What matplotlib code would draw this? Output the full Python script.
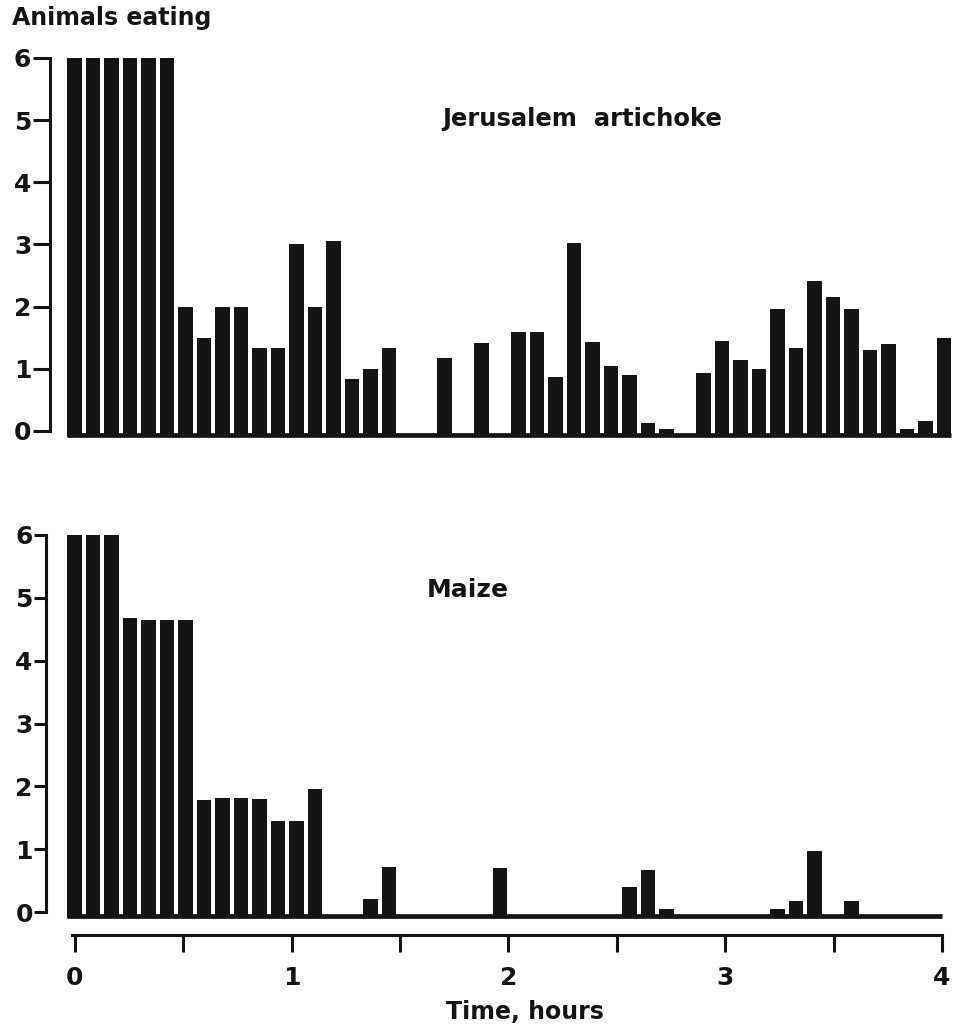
import matplotlib
matplotlib.use("Agg")
import matplotlib.pyplot as plt

# ==========================
# DATOS (48 intervalos de 5 min en 4 horas)
# ==========================

slots = list(range(48))

artichoke = [
    6, 6, 6, 6, 6, 6, 2, 1.5, 2, 2, 1.33, 1.33,
    3, 2, 3.05, 0.83, 1, 1.33, 0, 0, 1.17, 0, 1.42, 0,
    1.6, 1.6, 0.87, 3.03, 1.43, 1.05, 0.9, 0.13, 0.03, 0, 0.93, 1.45,
    1.14, 1.0, 1.96, 1.34, 2.41, 2.15, 1.96, 1.3, 1.4, 0.03, 0.16, 1.5,
]

maize = [
    6, 6, 6, 4.68, 4.64, 4.64, 4.64, 1.78, 1.82, 1.82, 1.8, 1.45,
    1.45, 1.95, 0, 0, 0.2, 0.72, 0, 0, 0, 0, 0, 0.7,
    0, 0, 0, 0, 0, 0, 0.4, 0.67, 0.05, 0, 0, 0,
    0, 0, 0.04, 0.18, 0.97, 0, 0.18, 0, 0, 0, 0, 0,
]

y_ticks = [0, 1, 2, 3, 4, 5, 6]
hour_ticks = [0, 1, 2, 3, 4]
half_ticks = [0.5, 1.5, 2.5, 3.5]

# ==========================
# ESTILO
# ==========================

W, H = 961, 1031
NEGRO = "#141414"
FUENTE = "DejaVu Sans"

plt.rcParams["font.family"] = FUENTE
plt.rcParams["font.weight"] = "bold"

fig = plt.figure(figsize=(W / 100, H / 100), dpi=100)
fig.patch.set_facecolor("white")

PX_SLOT = 18.5
X0 = 74.5  # centro del primer intervalo en pixeles


def panel(valores, y_cero, y_seis, eje_x, tick_len, fin_base):
    unidad = (y_cero - y_seis) / 6.0
    y_bot = y_cero + 0.2 * unidad
    y_top = y_seis - 0.2 * unidad
    ax = fig.add_axes([0, (H - y_bot) / H, 1, (y_bot - y_top) / H])
    ax.set_xlim(-X0 / PX_SLOT, (W - X0) / PX_SLOT)
    ax.set_ylim(-0.2, 6.2)
    ax.patch.set_alpha(0)

    xs = [s for s, v in zip(slots, valores) if v > 0]
    hs = [v + 0.1 for v in valores if v > 0]
    ax.bar(xs, hs, bottom=-0.1, width=0.81, color=NEGRO, linewidth=0)
    ax.plot([-0.41, fin_base], [-0.07, -0.07], color=NEGRO, lw=3.4,
            solid_capstyle="butt")

    for s in ["top", "right", "bottom"]:
        ax.spines[s].set_visible(False)
    ax.spines["left"].set_position(("data", (eje_x - X0) / PX_SLOT))
    ax.spines["left"].set_bounds(0, 6)
    ax.spines["left"].set_linewidth(2.2)
    ax.spines["left"].set_color(NEGRO)
    ax.set_yticks(y_ticks)
    ax.set_yticklabels([str(t) for t in y_ticks])
    ax.tick_params(axis="y", direction="out", length=tick_len, width=2.2,
                   color=NEGRO, labelsize=18, pad=1, labelcolor=NEGRO)
    ax.set_xticks([])
    return ax


ax1 = panel(artichoke, 431, 58, 50, 12.5, 47.4)
ax2 = panel(maize, 912, 535, 46, 8.5, 46.9)

# eje de tiempo
PX_H = 216.75
T0 = 75
y_t = 935
ax3 = fig.add_axes([0, (H - y_t) / H, 1, 0.0001])
ax3.set_xlim(-T0 / PX_H, (W - T0) / PX_H)
ax3.patch.set_alpha(0)
for s in ["top", "right", "left"]:
    ax3.spines[s].set_visible(False)
ax3.spines["bottom"].set_bounds(-0.014, 4.0)
ax3.spines["bottom"].set_linewidth(2.2)
ax3.spines["bottom"].set_color(NEGRO)
ax3.set_yticks([])
ax3.set_xticks(hour_ticks)
ax3.set_xticklabels([str(t) for t in hour_ticks])
ax3.set_xticks(half_ticks, minor=True)
ax3.tick_params(axis="x", which="both", direction="out", length=12, width=2.2,
                color=NEGRO, labelsize=18, pad=10, labelcolor=NEGRO)

# textos
fig.text(12 / W, 1 - 18 / H, "Animals eating", fontsize=17, fontweight="bold",
         ha="left", va="center", color=NEGRO)
fig.text(582 / W, 1 - 119 / H, "Jerusalem  artichoke", fontsize=17.5,
         fontweight="bold", ha="center", va="center", color=NEGRO)
fig.text(468 / W, 1 - 590 / H, "Maize", fontsize=18, fontweight="bold",
         ha="center", va="center", color=NEGRO)
fig.text(525 / W, 1 - 1012 / H, "Time, hours", fontsize=17, fontweight="bold",
         ha="center", va="center", color=NEGRO)

fig.savefig("out.png", dpi=100, facecolor="white")
plt.close()
